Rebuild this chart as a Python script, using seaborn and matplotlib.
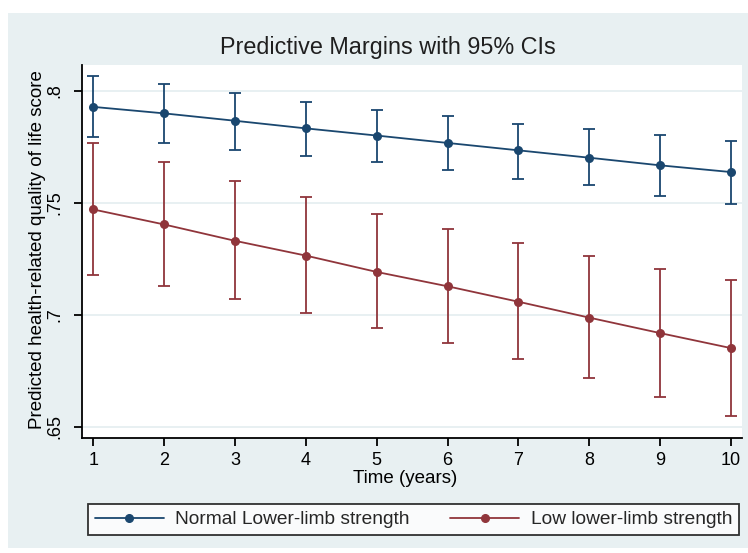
import numpy as np
import pandas as pd
import matplotlib
matplotlib.use("Agg")
import matplotlib.pyplot as plt
import seaborn as sns
from matplotlib.patches import Rectangle
from matplotlib.lines import Line2D
from matplotlib import font_manager

years = [1, 2, 3, 4, 5, 6, 7, 8, 9, 10]
normal_mean = [0.7928, 0.7899, 0.7866, 0.7832, 0.7800, 0.7767, 0.7734, 0.7701, 0.7667, 0.7637]
normal_lo = [0.7794, 0.7767, 0.7737, 0.7709, 0.7682, 0.7645, 0.7607, 0.7578, 0.7531, 0.7494]
normal_hi = [0.8067, 0.8028, 0.7991, 0.7952, 0.7916, 0.7888, 0.7852, 0.7831, 0.7803, 0.7776]
low_mean = [0.7470, 0.7403, 0.7330, 0.7264, 0.7191, 0.7127, 0.7058, 0.6987, 0.6918, 0.6851]
low_lo = [0.7176, 0.7128, 0.7072, 0.7006, 0.6943, 0.6876, 0.6801, 0.6718, 0.6633, 0.6548]
low_hi = [0.7767, 0.7682, 0.7597, 0.7525, 0.7448, 0.7382, 0.7319, 0.7261, 0.7204, 0.7157]
series_names = ["Normal Lower-limb strength", "Low lower-limb strength"]
ytick_vals = [0.65, 0.7, 0.75, 0.8]
ytick_labels = [".65", ".7", ".75", ".8"]

sns.set_theme(style="white")
avail = {f.name for f in font_manager.fontManager.ttflist}
fam = [f for f in ["Liberation Sans Narrow", "Liberation Sans", "DejaVu Sans"] if f in avail]
plt.rcParams["font.family"] = fam

BLUE = "#1a476f"
RED = "#90353b"
BG = "#e8f0f2"

W, H = 748, 553
fig = plt.figure(figsize=(W / 100, H / 100), dpi=100, facecolor="white")
fig.patches.append(Rectangle((8 / W, 1 - 548 / H), (W - 8) / W, (548 - 13) / H,
                             transform=fig.transFigure, facecolor=BG, edgecolor="none", zorder=-10))

ax_l, ax_r, ax_t, ax_b = 81.7, 742, 65, 437.7
ax = fig.add_axes([ax_l / W, 1 - ax_b / H, (ax_r - ax_l) / W, (ax_b - ax_t) / H])
ax.set_facecolor("white")

df = pd.DataFrame({
    "year": years * 2,
    "value": normal_mean + low_mean,
    "group": [series_names[0]] * len(years) + [series_names[1]] * len(years),
})

sns.lineplot(data=df, x="year", y="value", hue="group", palette=[BLUE, RED],
             marker="o", markersize=6.5, linewidth=1.3, markeredgewidth=0,
             legend=False, ax=ax, zorder=3)

for m, lo, hi, c in [(normal_mean, normal_lo, normal_hi, BLUE), (low_mean, low_lo, low_hi, RED)]:
    m = np.array(m)
    yerr = np.vstack([m - np.array(lo), np.array(hi) - m])
    ax.errorbar(years, m, yerr=yerr, fmt="none", ecolor=c, elinewidth=1.3,
                capsize=4, capthick=1.3, zorder=2)

ax.set_xlim(0.836, 10.155)
ax.set_ylim(0.6451, 0.8115)
ax.set_yticks(ytick_vals)
ax.set_yticklabels(ytick_labels, rotation=90, va="center")
ax.set_xticks(years)
ax.set_xticklabels([str(y) for y in years])
for y in ytick_vals:
    ax.axhline(y, color="#e4edf0", linewidth=1.2, zorder=0)

for s in ["top", "right"]:
    ax.spines[s].set_visible(False)
for s in ["left", "bottom"]:
    ax.spines[s].set_color("black")
    ax.spines[s].set_linewidth(1.3)

ax.tick_params(axis="both", direction="out", length=6, width=1.3, color="black",
               labelsize=13, labelcolor="black", left=True, bottom=True)
ax.tick_params(axis="x", pad=4)
ax.tick_params(axis="y", pad=7)

ax.set_xlabel("Time (years)", fontsize=13.5, color="black")
ax.xaxis.set_label_coords(0.49, -(470 - ax_b) / (ax_b - ax_t))
ax.set_ylabel("Predicted health-related quality of life score", fontsize=13.5, color="black")
ax.yaxis.label.set_va("center")
ax.yaxis.set_label_coords(-(ax_l - 38) / (ax_r - ax_l), 0.505)
ax.set_title("Predictive Margins with 95% CIs", fontsize=16.8, color="#1f1f1f", pad=8,
             x=(388 - ax_l) / (ax_r - ax_l))

handles = [Line2D([], [], color=BLUE, marker="o", markersize=5.5, linewidth=1.3),
           Line2D([], [], color=RED, marker="o", markersize=5.5, linewidth=1.3)]
leg = fig.legend(handles, series_names, loc="lower left",
                 bbox_to_anchor=(88 / W, 1 - 535 / H, (739 - 88) / W, (535 - 500) / H),
                 mode="expand", ncol=2, frameon=True, fancybox=False,
                 fontsize=13.8, handlelength=3.6, handletextpad=0.6,
                 borderaxespad=0, borderpad=0.35, columnspacing=2)
leg.get_frame().set_edgecolor("black")
leg.get_frame().set_linewidth(1.3)
leg.get_frame().set_facecolor("white")

fig.savefig("out.png", dpi=100, facecolor="white")
